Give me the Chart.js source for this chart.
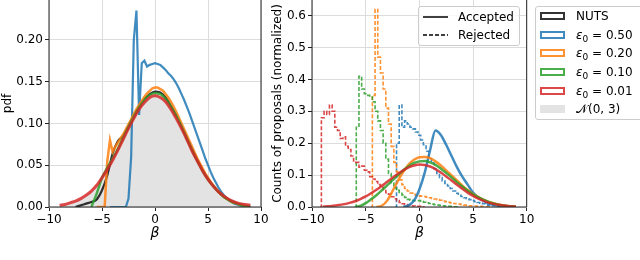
<!DOCTYPE html>
<html lang="en">
<head>
<meta charset="UTF-8">
<title>Step size study</title>
<style>
    body { margin: 0; background: #fff; font-family: 'DejaVu Sans', sans-serif; }
    #wrap { position: relative; width: 640px; height: 260px; overflow: hidden; }
    canvas { position: absolute; top: 0; }
    #cLeft { left: 0; }
    #cRight { left: 262px; }
    .legend {
        position: absolute; box-sizing: border-box;
        background: rgba(255,255,255,0.8); border: 1px solid #ccc; border-radius: 3px;
        font-size: 12px; color: #000; white-space: nowrap;
    }
    .legend .row { display: flex; align-items: center; }
    #lineLegend { left: 418px; top: 6px; width: 102px; height: 40px; padding-top: 0.5px; }
    #lineLegend .row { height: 18.3px; }
    #lineLegend svg { margin: 0 10px 0 4px; }
    #boxLegend { left: 535px; top: 6px; width: 110px; height: 114px; }
    #boxLegend .row { height: 18.6px; }
    .patch { box-sizing: border-box; width: 25px; height: 8px; margin: 0 11px 0 4px; border: 2px solid; }
    .lbl sub { font-size: 9px; vertical-align: -3px; line-height: 0; }
</style>
</head>
<body>
<div id="wrap">
    <canvas id="cLeft" width="270" height="260"></canvas>
    <canvas id="cRight" width="275" height="260"></canvas>

    <div id="lineLegend" class="legend">
        <div class="row"><svg width="25" height="4"><line x1="0" y1="2" x2="25" y2="2" stroke="#000" stroke-width="1.5"/></svg><span>Accepted</span></div>
        <div class="row"><svg width="25" height="4"><line x1="0" y1="2" x2="25" y2="2" stroke="#000" stroke-width="1.5" stroke-dasharray="4,2"/></svg><span>Rejected</span></div>
    </div>

    <div id="boxLegend" class="legend">
        <div class="row"><span class="patch" style="border-color:rgba(0,0,0,0.8)"></span><span class="lbl">NUTS</span></div>
        <div class="row"><span class="patch" style="border-color:rgba(31,119,180,0.85)"></span><span class="lbl"><i>ε</i><sub>0</sub> = 0.50</span></div>
        <div class="row"><span class="patch" style="border-color:rgba(255,127,14,0.85)"></span><span class="lbl"><i>ε</i><sub>0</sub> = 0.20</span></div>
        <div class="row"><span class="patch" style="border-color:rgba(44,160,44,0.85)"></span><span class="lbl"><i>ε</i><sub>0</sub> = 0.10</span></div>
        <div class="row"><span class="patch" style="border-color:rgba(214,39,40,0.85)"></span><span class="lbl"><i>ε</i><sub>0</sub> = 0.01</span></div>
        <div class="row"><span class="patch" style="border:none;background:#e3e3e3"></span><span class="lbl">𝒩(0, 3)</span></div>
    </div>
</div>

<script src="https://cdn.jsdelivr.net/npm/chart.js"></script>
<script>
    // ticks
    const xTicks = [-10, -5, 0, 5, 10];
    const yTicksPdf = [0, 0.05, 0.10, 0.15, 0.20];
    const yTicksCounts = [0, 0.1, 0.2, 0.3, 0.4, 0.5, 0.6];

    // beta grid, 0.5 steps
    const gridCoarse = [
        -9, -8.5, -8, -7.5,  -7, -6.5, -6, -5.5,  -5, -4.5, -4, -3.5,
        -3, -2.5, -2, -1.5,  -1, -0.5, 0, 0.5,  1, 1.5, 2, 2.5,
        3, 3.5, 4, 4.5,  5, 5.5, 6, 6.5,  7, 7.5, 8, 8.5,  9
    ];

    // beta grid, 0.25 steps (for the spiky histograms)
    const gridFine = [
        -9.25,
        -9, -8.75, -8.5, -8.25,   -8, -7.75, -7.5, -7.25,   -7, -6.75, -6.5, -6.25,
        -6, -5.75, -5.5, -5.25,   -5, -4.75, -4.5, -4.25,   -4, -3.75, -3.5, -3.25,
        -3, -2.75, -2.5, -2.25,   -2, -1.75, -1.5, -1.25,   -1, -0.75, -0.5, -0.25,
        0, 0.25, 0.5, 0.75,       1, 1.25, 1.5, 1.75,       2, 2.25, 2.5, 2.75,
        3, 3.25, 3.5, 3.75,       4, 4.25, 4.5, 4.75,       5, 5.25, 5.5, 5.75,
        6, 6.25, 6.5, 6.75,       7, 7.25, 7.5, 7.75,       8, 8.25, 8.5, 8.75,
        9, 9.25
    ];

    // ---- left panel: pdf ----
    const normalPdf = [
        0.0015, 0.0024, 0.0038, 0.0058,  0.0087, 0.0127, 0.018, 0.0248,
        0.0332, 0.0432, 0.0547, 0.0673,  0.0807, 0.094, 0.1065, 0.1174,
        0.1258, 0.1312, 0.133, 0.1312,   0.1258, 0.1174, 0.1065, 0.094,
        0.0807, 0.0673, 0.0547, 0.0432,  0.0332, 0.0248, 0.018, 0.0127,
        0.0087, 0.0058, 0.0038, 0.0024,  0.0015
    ];
    const nutsPdf = [
        null, null, null, 0,          0.002, 0.004, 0.006, 0.009,
        0.02, 0.038, 0.064, 0.079,    0.085, 0.097, 0.109, 0.12,
        0.129, 0.135, 0.138, 0.137,   0.131, 0.121, 0.11, 0.097,
        0.083, 0.069, 0.056, 0.044,   0.034, 0.025, 0.018, 0.012,
        0.008, 0.005, 0.003, 0.001,   0
    ];
    const eps010Pdf = [
        null, null, null, null,       null, null, 0, 0.016,
        0.035, 0.047, 0.058, 0.07,    0.083, 0.096, 0.108, 0.119,
        0.128, 0.134, 0.136, 0.135,   0.129, 0.12, 0.109, 0.096,
        0.082, 0.068, 0.055, 0.043,   0.033, 0.025, 0.018, 0.012,
        0.008, 0.005, 0.003, 0.001,   0
    ];
    const eps001Pdf = [
        0.002, 0.003, 0.005, 0.007,   0.01, 0.014, 0.019, 0.026,
        0.035, 0.045, 0.056, 0.068,   0.081, 0.094, 0.106, 0.117,
        0.125, 0.131, 0.133, 0.131,   0.126, 0.117, 0.106, 0.094,
        0.081, 0.067, 0.055, 0.043,   0.033, 0.025, 0.018, 0.013,
        0.009, 0.006, 0.004, 0.003,   0.002
    ];
    const eps050Pdf = [
        null,
        null, null, null, null,   null, null, null, null,   null, null, null, null,
        null, null, null, null,   null, null, null, 0,      0, 0, 0, 0,
        0, 0, 0.01, 0.06,         0.2, 0.235, 0.11, 0.172,  0.175, 0.168, 0.17, 0.171,
        0.172, 0.171, 0.17, 0.167,  0.164, 0.16, 0.157, 0.153,  0.148, 0.142, 0.135, 0.128,
        0.12, 0.112, 0.103, 0.094,  0.085, 0.076, 0.067, 0.058,  0.05, 0.042, 0.035, 0.029,
        0.023, 0.018, 0.014, 0.011, 0.008, 0.006, 0.004, 0.003,  0.002, 0.001, 0, null,
        null, null
    ];
    const eps020Pdf = [
        null,
        null, null, null, null,   null, null, null, null,   null, null, null, null,
        null, null, 0, 0,         0, 0, 0.055, 0.08,        0.066, 0.072, 0.077, 0.082,
        0.087, 0.093, 0.099, 0.105,  0.111, 0.117, 0.122, 0.127,  0.132, 0.136, 0.139, 0.142,
        0.143, 0.143, 0.141, 0.139,  0.135, 0.131, 0.126, 0.12,   0.114, 0.107, 0.1, 0.093,
        0.086, 0.079, 0.072, 0.065,  0.058, 0.052, 0.046, 0.04,   0.035, 0.03, 0.026, 0.022,
        0.018, 0.015, 0.012, 0.01,   0.008, 0.006, 0.005, 0.004,  0.003, 0.002, 0.001, 0,
        null, null
    ];

    // ---- right panel: accepted proposals (solid) ----
    const acc050 = [
        null, null, null, null,   null, null, null, null,   null, null, null, null,
        null, null, null, 0,      0.005, 0.02, 0.055, 0.108,  0.178, 0.24, 0.226, 0.195,
        0.16, 0.125, 0.095, 0.07,  0.045, 0.03, 0.019, 0.011,  0.006, 0.003, 0.001, 0,
        null
    ];
    const acc020 = [
        null, null, null, null,   null, null, null, null,   null, null, 0, 0.004,
        0.02, 0.05, 0.082, 0.11,  0.133, 0.148, 0.156, 0.157,  0.153, 0.143, 0.13, 0.115,
        0.099, 0.083, 0.067, 0.053,  0.041, 0.031, 0.022, 0.016,  0.011, 0.007, 0.004, 0.002,
        0.001
    ];
    const acc010 = [
        null, null, null, null,   null, null, 0, 0.003,     0.012, 0.024, 0.037, 0.052,
        0.068, 0.084, 0.1, 0.115,  0.128, 0.138, 0.143, 0.144,  0.14, 0.132, 0.12, 0.107,
        0.093, 0.078, 0.064, 0.051,  0.04, 0.03, 0.022, 0.015,  0.01, 0.006, 0.004, 0.002,
        0.001
    ];
    const acc001 = [
        0.001, 0.002, 0.004, 0.006,  0.009, 0.013, 0.018, 0.025,  0.033, 0.043, 0.054, 0.066,
        0.079, 0.092, 0.104, 0.115,  0.124, 0.13, 0.133, 0.132,  0.127, 0.119, 0.108, 0.096,
        0.083, 0.07, 0.057, 0.045,   0.035, 0.026, 0.019, 0.013,  0.009, 0.006, 0.004, 0.002,
        0.001
    ];

    // ---- right panel: rejected proposals (dashed) ----
    const rej050 = [
        null,
        null, null, null, null,   null, null, null, null,   null, null, null, null,
        null, null, null, null,   null, null, null, null,   null, null, null, null,
        null, null, null, 0,      0.2, 0.32, 0.25, 0.27,    0.26, 0.25, 0.245, 0.235,
        0.225, 0.21, 0.195, 0.175,  0.155, 0.138, 0.12, 0.105,  0.092, 0.082, 0.074, 0.066,
        0.058, 0.05, 0.043, 0.037,  0.033, 0.029, 0.026, 0.023,  0.02, 0.017, 0.014, 0.012,
        0.01, 0.008, 0.006, 0.005,  0.004, 0.003, 0.002, 0.002,  0.001, 0.001, 0, null,
        null, null
    ];
    const rej020 = [
        null,
        null, null, null, null,   null, null, null, null,   null, null, null, null,
        null, null, null, null,   null, null, 0, 0.35,      0.62, 0.47, 0.42, 0.37,
        0.31, 0.26, 0.19, 0.14,   0.11, 0.085, 0.07, 0.058,  0.05, 0.044, 0.04, 0.037,
        0.035, 0.034, 0.033, 0.031,  0.029, 0.027, 0.025, 0.023,  0.021, 0.019, 0.017, 0.015,
        0.013, 0.011, 0.01, 0.009,   0.007, 0.006, 0.005, 0.004,  0.003, 0.003, 0.002, 0.002,
        0.001, 0.001, 0.001, 0,      null, null, null, null,      null, null, null, null,
        null, null
    ];
    const rej010 = [
        null,
        null, null, null, null,   null, null, null, null,   null, null, null, null,
        0, 0.25, 0.41, 0.37,      0.355, 0.35, 0.345, 0.33,  0.3, 0.27, 0.24, 0.2,
        0.15, 0.105, 0.075, 0.06,  0.052, 0.046, 0.038, 0.03,  0.024, 0.021, 0.02, 0.02,
        0.02, 0.018, 0.015, 0.013,  0.011, 0.009, 0.007, 0.006,  0.005, 0.004, 0.003, 0.002,
        0.002, 0.001, 0.001, 0,     null, null, null, null,      null, null, null, null,
        null, null, null, null,     null, null, null, null,      null, null, null, null,
        null, null
    ];
    const rej001 = [
        0,
        0.28, 0.3, 0.29, 0.32,    0.3, 0.25, 0.24, 0.215,   0.22, 0.19, 0.18, 0.16,
        0.14, 0.14, 0.125, 0.128,  0.115, 0.11, 0.095, 0.088,  0.08, 0.07, 0.062, 0.055,
        0.045, 0.04, 0.032, 0.026,  0.02, 0.014, 0.01, 0.008,  0.005, 0.004, 0.003, 0.002,
        0.002, 0.001, 0, null,     null, null, null, null,   null, null, null, null,
        null, null, null, null,    null, null, null, null,   null, null, null, null,
        null, null, null, null,    null, null, null, null,   null, null, null, null,
        null, null
    ];

    const BLACK = 'rgba(0,0,0,0.8)';
    const BLUE = 'rgba(31,119,180,0.85)';
    const ORANGE = 'rgba(255,127,14,0.85)';
    const GREEN = 'rgba(44,160,44,0.85)';
    const RED = 'rgba(214,39,40,0.85)';

    Chart.defaults.font.family = "'DejaVu Sans', sans-serif";
    Chart.defaults.font.size = 12;
    Chart.defaults.color = '#000';

    function pts(grid, values) {
        return grid.map((x, i) => ({ x: x, y: values[i] }));
    }

    function smooth(grid, values, color, width, order, extra) {
        return Object.assign({
            data: pts(grid, values), borderColor: color, borderWidth: width,
            pointRadius: 0, fill: false, cubicInterpolationMode: 'monotone', order: order
        }, extra || {});
    }

    function straight(grid, values, color, width, order, extra) {
        return Object.assign({
            data: pts(grid, values), borderColor: color, borderWidth: width,
            pointRadius: 0, fill: false, tension: 0, order: order
        }, extra || {});
    }

    function steps(grid, values, color, width, order, extra) {
        return Object.assign({
            data: pts(grid, values), borderColor: color, borderWidth: width,
            pointRadius: 0, fill: false, stepped: 'middle', order: order
        }, extra || {});
    }

    // spines: left, bottom, right (top is cut off in the figure)
    const frame = {
        id: 'frame',
        afterDraw(chart) {
            const { ctx, chartArea: a } = chart;
            ctx.save();
            ctx.strokeStyle = '#222';
            ctx.lineWidth = 1;
            ctx.beginPath();
            ctx.moveTo(a.left, a.top);
            ctx.lineTo(a.left, a.bottom);
            ctx.lineTo(a.right, a.bottom);
            ctx.lineTo(a.right, a.top);
            ctx.stroke();
            ctx.restore();
        }
    };

    function scales(yTicks, yMax, digits, yTitle, titlePad, yWidth) {
        const grid = { color: '#dcdcdc', lineWidth: 1, tickLength: 4, tickColor: '#222' };
        return {
            x: {
                type: 'linear', min: -10, max: 10,
                afterBuildTicks: s => { s.ticks = xTicks.map(v => ({ value: v })); },
                afterFit: s => { s.height = 53; s.paddingLeft = 0; s.paddingRight = 0; },
                grid: grid,
                border: { display: false },
                ticks: { padding: 2, maxRotation: 0, autoSkip: false,
                         callback: v => String(v).replace('-', '\u2212') },
                title: { display: true, text: 'β', font: { size: 14, style: 'italic' },
                         padding: { top: 0, bottom: 18 } }
            },
            y: {
                min: 0, max: yMax,
                afterBuildTicks: s => { s.ticks = yTicks.map(v => ({ value: v })); },
                afterFit: s => { s.width = yWidth; s.paddingTop = 0; s.paddingBottom = 0; },
                grid: grid,
                border: { display: false },
                ticks: { padding: 2, callback: v => v.toFixed(digits) },
                title: { display: true, text: yTitle, padding: { top: titlePad, bottom: 0 } }
            }
        };
    }

    const common = {
        responsive: false,
        animation: false,
        plugins: { legend: { display: false }, tooltip: { enabled: false } }
    };

    new Chart(document.getElementById('cLeft'), {
        type: 'line',
        data: {
            datasets: [
                smooth(gridCoarse, normalPdf, '#e3e3e3', 0, 10, { fill: 'origin', backgroundColor: '#e3e3e3' }),
                smooth(gridCoarse, nutsPdf, BLACK, 2.2, 6),
                straight(gridFine, eps050Pdf, BLUE, 2.2, 5),
                straight(gridFine, eps020Pdf, ORANGE, 2.5, 4),
                smooth(gridCoarse, eps010Pdf, GREEN, 2.5, 3),
                smooth(gridCoarse, eps001Pdf, RED, 3, 2)
            ]
        },
        options: Object.assign({
            layout: { padding: { left: 0, right: 9, top: 0, bottom: 0 } },
            scales: scales(yTicksPdf, 0.2476, 2, 'pdf', 1, 49)
        }, common),
        plugins: [frame]
    });

    const dash = { borderDash: [4, 2] };
    new Chart(document.getElementById('cRight'), {
        type: 'line',
        data: {
            datasets: [
                steps(gridFine, rej050, BLUE, 1.6, 13, dash),
                steps(gridFine, rej020, ORANGE, 1.6, 12, dash),
                steps(gridFine, rej010, GREEN, 1.6, 11, dash),
                steps(gridFine, rej001, RED, 1.6, 10, dash),
                smooth(gridCoarse, acc050, BLUE, 2.5, 4),
                smooth(gridCoarse, acc020, ORANGE, 2.5, 3),
                smooth(gridCoarse, acc010, GREEN, 2.5, 2),
                smooth(gridCoarse, acc001, RED, 2.5, 1)
            ]
        },
        options: Object.assign({
            layout: { padding: { left: 0, right: 10.3, top: 0, bottom: 0 } },
            scales: scales(yTicksCounts, 0.649, 1, 'Counts of proposals (normalized)', 9, 50)
        }, common),
        plugins: [frame]
    });
</script>
</body>
</html>
